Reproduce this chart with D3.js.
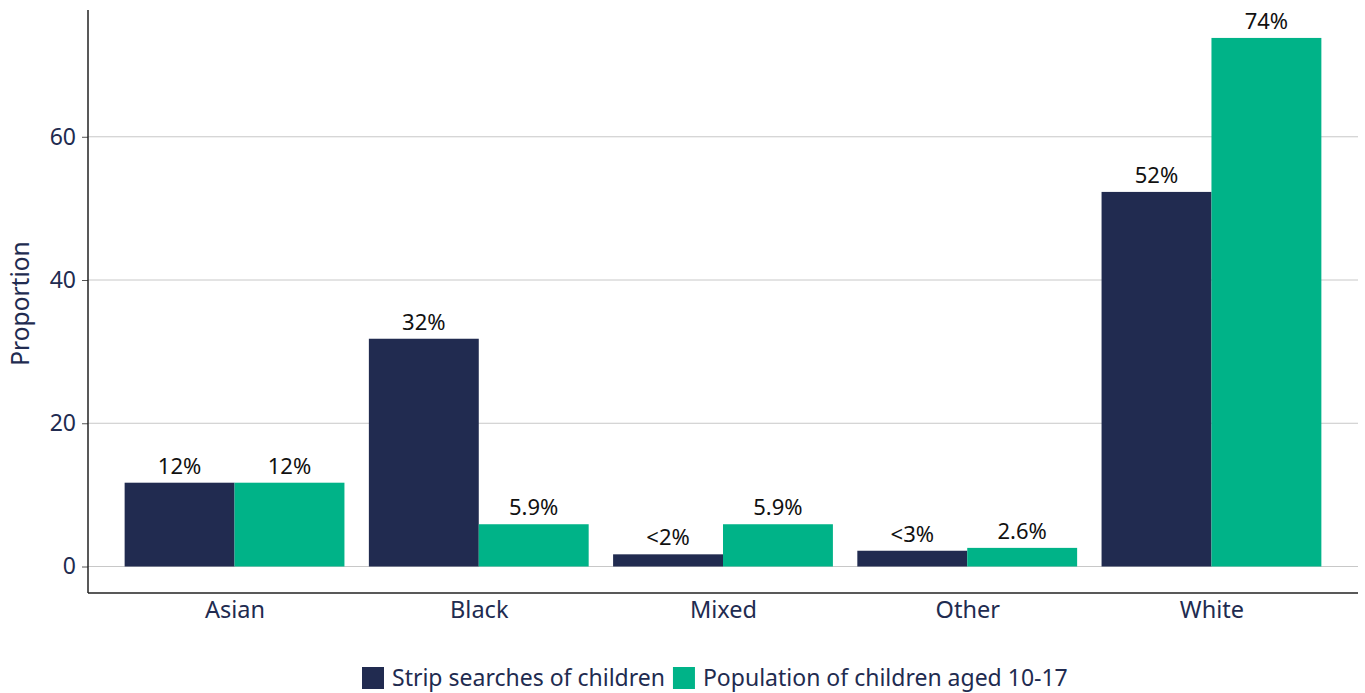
<!DOCTYPE html>
<html>
<head>
<meta charset="utf-8">
<script src="https://cdn.jsdelivr.net/npm/d3@7"></script>
<style>
  body { margin: 0; background: #fff; }
  text { font-family: "Noto Sans", "Open Sans", sans-serif; }
</style>
</head>
<body>
<div id="chart"></div>
<script>
const categories = ["Asian", "Black", "Mixed", "Other", "White"];
const seriesNames = ["Strip searches of children", "Population of children aged 10-17"];
const stripValues = [11.7, 31.8, 1.7, 2.2, 52.3];
const popValues = [11.7, 5.9, 5.9, 2.6, 73.8];
const stripLabels = ["12%", "32%", "<2%", "<3%", "52%"];
const popLabels = ["12%", "5.9%", "5.9%", "2.6%", "74%"];
const yTicks = [0, 20, 40, 60];

const colors = ["#212b50", "#00b388"];
const textColor = "#212b50";

const width = 1365, height = 693;
const margin = { top: 10, right: 7, bottom: 100, left: 88 };

const svg = d3.select("#chart").append("svg")
  .attr("width", width).attr("height", height);

const x = d3.scaleLinear()
  .domain([0.4, categories.length + 0.6])
  .range([margin.left, width - margin.right]);

const y = d3.scaleLinear()
  .domain([-3.7, 77.7])
  .range([height - margin.bottom, margin.top]);

// gridlines
svg.append("g").selectAll("line").data(yTicks).join("line")
  .attr("x1", margin.left).attr("x2", width - margin.right)
  .attr("y1", d => y(d)).attr("y2", d => y(d))
  .attr("stroke", "#c8c8c8").attr("stroke-width", 1);

const bw = 0.45;
const rows = categories.map((c, i) => ({
  cat: c, i,
  vals: [stripValues[i], popValues[i]],
  labs: [stripLabels[i], popLabels[i]]
}));

const groups = svg.append("g").selectAll("g").data(rows).join("g");

[0, 1].forEach(s => {
  groups.append("rect")
    .attr("x", d => x(d.i + 1 - bw + s * bw))
    .attr("width", d => x(d.i + 1 + bw) - x(d.i + 1))
    .attr("y", d => y(d.vals[s]))
    .attr("height", d => y(0) - y(d.vals[s]))
    .attr("fill", colors[s]);
  groups.append("text")
    .attr("x", d => x(d.i + 1 - bw / 2 + s * bw))
    .attr("y", d => y(d.vals[s]) - 9)
    .attr("text-anchor", "middle")
    .attr("font-size", 22)
    .attr("fill", "#111")
    .text(d => d.labs[s]);
});

// axes
const yAxis = svg.append("g")
  .attr("transform", `translate(${margin.left},0)`)
  .call(d3.axisLeft(y).tickValues(yTicks).tickSize(6).tickPadding(6));
yAxis.select(".domain").remove();
yAxis.selectAll(".tick line").attr("stroke", "#555");
yAxis.selectAll(".tick text").attr("font-size", 23).attr("fill", textColor)
  .style("font-family", "'Noto Sans', sans-serif");

svg.append("line")
  .attr("x1", margin.left).attr("x2", margin.left)
  .attr("y1", margin.top).attr("y2", height - margin.bottom)
  .attr("stroke", "#222").attr("stroke-width", 1.5);
svg.append("line")
  .attr("x1", margin.left).attr("x2", width - margin.right)
  .attr("y1", height - margin.bottom).attr("y2", height - margin.bottom)
  .attr("stroke", "#222").attr("stroke-width", 1.5);

const xAxis = svg.append("g")
  .attr("transform", `translate(0,${height - margin.bottom})`)
  .call(d3.axisBottom(x).tickValues(d3.range(1, categories.length + 1))
    .tickFormat(d => categories[d - 1]).tickSize(0).tickPadding(8));
xAxis.select(".domain").remove();
xAxis.selectAll(".tick text").attr("font-size", 23.5).attr("fill", textColor)
  .style("font-family", "'Noto Sans', sans-serif");

// y title
svg.append("text")
  .attr("transform", `translate(29,${(margin.top + height - margin.bottom) / 2 + 2}) rotate(-90)`)
  .attr("text-anchor", "middle")
  .attr("font-size", 24.5)
  .attr("fill", textColor)
  .text("Proportion");

// legend
const legend = svg.append("g").attr("transform", "translate(362,667)");
let lx = 0;
seriesNames.forEach((name, s) => {
  const g = legend.append("g").attr("transform", `translate(${lx},0)`);
  g.append("rect").attr("width", 22).attr("height", 22).attr("fill", colors[s]);
  const t = g.append("text").attr("x", 30).attr("y", 19)
    .attr("font-size", 23).attr("fill", textColor).text(name);
  lx += 30 + t.node().getComputedTextLength() + 8;
});
</script>
</body>
</html>
